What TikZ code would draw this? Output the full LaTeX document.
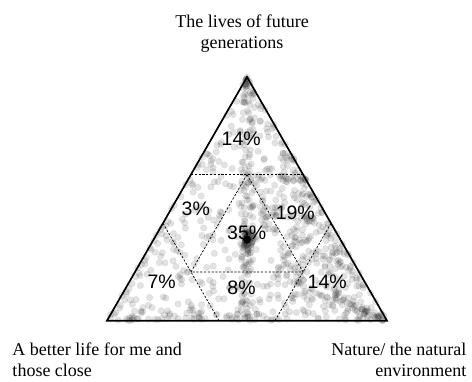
\documentclass[tikz,border=0pt]{standalone}
\usepackage{fontspec}
\setmainfont{Liberation Serif}
\newfontfamily\pctfont{Liberation Sans}
\usepackage{tikz}

\begin{document}
\begin{tikzpicture}[x=1pt, y=1pt]
  \tikzstyle{dotpt} = [fill=black, fill opacity=0.11, draw=black, draw opacity=0.08, line width=0.5pt]
  \tikzstyle{cutline} = [dash pattern=on 2.2pt off 1.6pt, line width=0.7pt]
  \tikzstyle{edge} = [line width=1.7pt, line join=miter]
  \tikzstyle{pct} = [font=\pctfont\fontsize{19.5}{19.5}\selectfont, inner sep=0pt]
  \tikzstyle{corner} = [font=\fontsize{18}{21.3}\selectfont, inner sep=0pt]

  \useasboundingbox (0,0) rectangle (472,381);
  \pgfmathsetseed{4217}

  \coordinate (L) at (107,60.3);
  \coordinate (R) at (387,60.3);
  \coordinate (T) at (247,304);

  % answers spread over the whole triangle
  \foreach \i in {1,...,330} {
    \pgfmathsetmacro\uA{rnd}
    \pgfmathsetmacro\uB{rnd}
    \pgfmathsetmacro\wL{min(\uA,\uB)}
    \pgfmathsetmacro\wR{abs(\uA-\uB)}
    \pgfmathsetmacro\wT{1-max(\uA,\uB)}
    \path [dotpt] (barycentric cs:L=\wL,R=\wR,T=\wT) circle [radius=3.2];
  }
  % equal weight for me and nature
  \foreach \i in {1,...,110} {
    \pgfmathsetmacro\wT{rnd}
    \pgfmathsetmacro\wD{(rnd-0.5)*min(0.045,1-\wT)}
    \pgfmathsetmacro\wL{(1-\wT)/2+\wD}
    \pgfmathsetmacro\wR{(1-\wT)/2-\wD}
    \path [dotpt] (barycentric cs:L=\wL,R=\wR,T=\wT) circle [radius=3.2];
  }
  % centre
  \foreach \i in {1,...,60} {
    \pgfmathsetmacro\gA{0.035*(rnd+rnd+rnd-1.5)}
    \pgfmathsetmacro\gB{0.035*(rnd+rnd+rnd-1.5)}
    \pgfmathsetmacro\wL{1/3+\gA}
    \pgfmathsetmacro\wR{1/3+\gB}
    \pgfmathsetmacro\wT{1/3-\gA-\gB}
    \path [dotpt] (barycentric cs:L=\wL,R=\wR,T=\wT) circle [radius=3.2];
  }
  \foreach \i in {1,...,40} {
    \pgfmathsetmacro\gA{0.006*(rnd-0.5)}
    \pgfmathsetmacro\gB{0.006*(rnd-0.5)}
    \pgfmathsetmacro\wL{1/3+\gA}
    \pgfmathsetmacro\wR{1/3+\gB}
    \pgfmathsetmacro\wT{1/3-\gA-\gB}
    \path [dotpt] (barycentric cs:L=\wL,R=\wR,T=\wT) circle [radius=3.2];
  }
  % little for me
  \foreach \i in {1,...,130} {
    \pgfmathsetmacro\wL{0.15*rnd*rnd}
    \pgfmathsetmacro\wT{(1-\wL)*rnd}
    \pgfmathsetmacro\wR{1-\wL-\wT}
    \path [dotpt] (barycentric cs:L=\wL,R=\wR,T=\wT) circle [radius=3.2];
  }
  \foreach \i in {1,...,110} {
    \pgfmathsetmacro\wL{0.25*rnd}
    \pgfmathsetmacro\wT{0.2+0.4*rnd}
    \pgfmathsetmacro\wR{1-\wL-\wT}
    \path [dotpt] (barycentric cs:L=\wL,R=\wR,T=\wT) circle [radius=3.2];
  }
  % mostly nature
  \foreach \i in {1,...,80} {
    \pgfmathsetmacro\wR{0.5+0.47*rnd}
    \pgfmathsetmacro\wL{(1-\wR)*(0.62+0.25*(rnd-0.5))}
    \pgfmathsetmacro\wT{1-\wR-\wL}
    \path [dotpt] (barycentric cs:L=\wL,R=\wR,T=\wT) circle [radius=3.2];
  }
  % little for the future
  \foreach \i in {1,...,70} {
    \pgfmathsetmacro\wT{0.07*rnd*rnd}
    \pgfmathsetmacro\wL{(1-\wT)*rnd}
    \pgfmathsetmacro\wR{1-\wT-\wL}
    \path [dotpt] (barycentric cs:L=\wL,R=\wR,T=\wT) circle [radius=3.2];
  }
  % little for nature
  \foreach \i in {1,...,45} {
    \pgfmathsetmacro\wR{0.08*rnd*rnd}
    \pgfmathsetmacro\wT{(1-\wR)*rnd}
    \pgfmathsetmacro\wL{1-\wR-\wT}
    \path [dotpt] (barycentric cs:L=\wL,R=\wR,T=\wT) circle [radius=3.2];
  }

  \coordinate (topL) at (barycentric cs:L=0.4,R=0,T=0.6);
  \coordinate (topR) at (barycentric cs:L=0,R=0.4,T=0.6);
  \coordinate (leftT) at (barycentric cs:L=0.6,R=0,T=0.4);
  \coordinate (leftB) at (barycentric cs:L=0.6,R=0.4,T=0);
  \coordinate (rightT) at (barycentric cs:L=0,R=0.6,T=0.4);
  \coordinate (rightB) at (barycentric cs:L=0.4,R=0.6,T=0);
  \coordinate (midT) at (barycentric cs:L=0.2,R=0.2,T=0.6);
  \coordinate (midL) at (barycentric cs:L=0.6,R=0.2,T=0.2);
  \coordinate (midR) at (barycentric cs:L=0.2,R=0.6,T=0.2);

  \draw [cutline] (topL) -- (topR);
  \draw [cutline] (leftT) -- (leftB);
  \draw [cutline] (rightT) -- (rightB);
  \draw [cutline] (midT) -- (midL) -- (midR) -- cycle;

  \draw [edge] (L) -- (R) -- (T) -- cycle;

  \node (pTop) [pct] at (241.2,241.8) {14\%};
  \node (pLeft) [pct] at (195.8,172.2) {3\%};
  \node (pRight) [pct] at (295.3,168) {19\%};
  \node (pMid) [pct] at (246.7,148.3) {35\%};
  \node (pSelf) [pct] at (161.7,98.8) {7\%};
  \node (pBase) [pct] at (241.5,93.5) {8\%};
  \node (pNature) [pct] at (327.2,98.8) {14\%};

  \node (future) [corner, align=center, anchor=north] at (242,366.7) {The lives of future\\generations};
  \node (self) [corner, align=left, anchor=north west] at (12.3,38.4) {A better life for me and\\those close};
  \node (nature) [corner, align=right, anchor=north east] at (466.5,38.4) {Nature/ the natural\\environment};
\end{tikzpicture}
\end{document}
